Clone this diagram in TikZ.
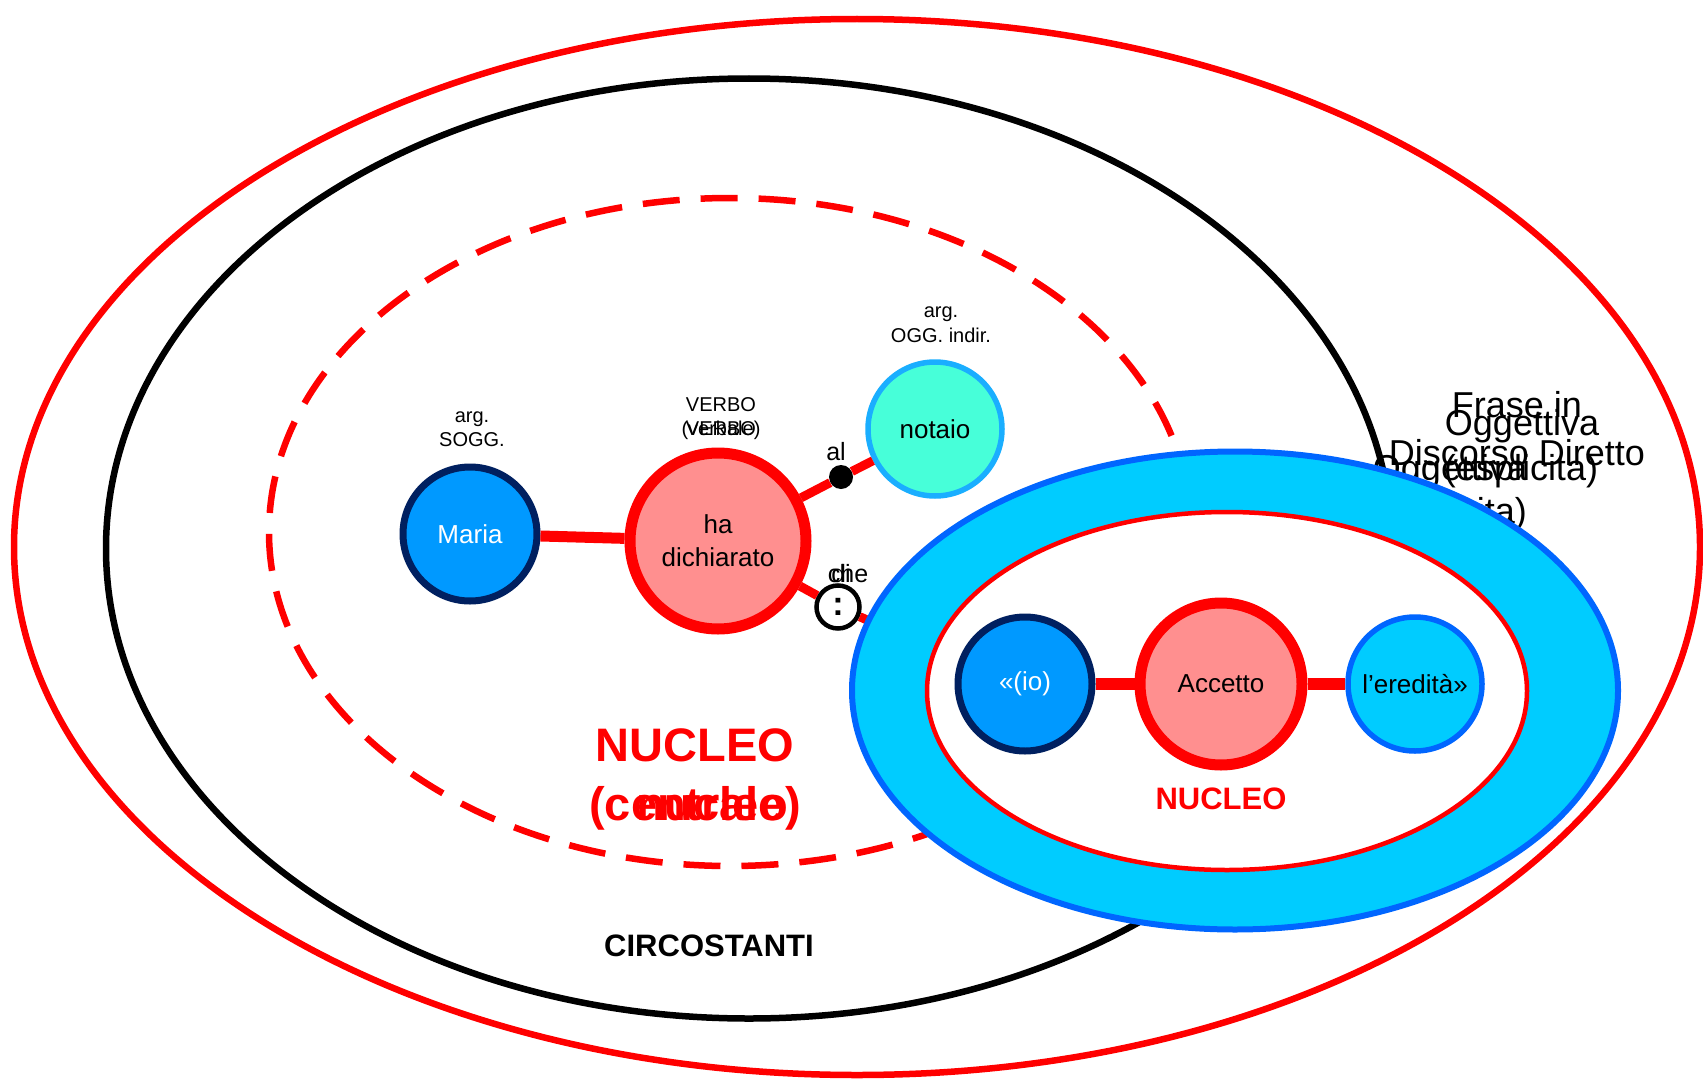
\documentclass[tikz,border=0pt]{standalone}
\usepackage{fontspec}
\setmainfont{Liberation Sans}
\definecolor{subjfill}{HTML}{0099FF}
\definecolor{subjline}{HTML}{002060}
\definecolor{verbfill}{HTML}{FF8F8F}
\definecolor{oifill}{HTML}{47FFD9}
\definecolor{oiline}{HTML}{1AAEFF}
\definecolor{odfill}{HTML}{00CCFF}
\definecolor{odline}{HTML}{0066FF}
\definecolor{ringfill}{HTML}{00CCFF}
\definecolor{ringline}{HTML}{0066FF}
\begin{document}
\begin{tikzpicture}[x=1pt,y=-1pt,
  word/.style={circle, inner sep=0pt, align=center, font=\fontsize{26}{33}\selectfont},
  subj/.style={word, minimum size=134pt, fill=subjfill, draw=subjline, line width=7pt, text=white},
  verb/.style={word, fill=verbfill, draw=red, line width=11pt},
  objind/.style={word, minimum size=134pt, fill=oifill, draw=oiline, line width=5.5pt},
  objdir/.style={word, minimum size=134pt, fill=odfill, draw=odline, line width=5.5pt},
  link/.style={red, line width=11pt},
  thin link/.style={red, line width=9pt},
  role/.style={anchor=base, inner sep=0pt, font=\fontsize{20}{24}\selectfont},
  prep/.style={anchor=base, inner sep=0pt, font=\fontsize{25}{30}\selectfont},
  side/.style={anchor=base, inner sep=0pt, font=\fontsize{36}{44}\selectfont},
  core/.style={anchor=base, inner sep=0pt, text=red, font=\fontsize{47}{56}\selectfont\bfseries},
]
\useasboundingbox (0,0) rectangle (1703,1081);

% outer frame, circumstantials and the dashed core
\draw[red, line width=6.5pt] (857,547) ellipse [x radius=843, y radius=528];
\draw[black, line width=6.5pt] (749,548.5) ellipse [x radius=643, y radius=470];
\draw[red, line width=6.5pt, dash pattern=on 37pt off 21pt] (730,532) ellipse [x radius=461, y radius=334];

% labels of the direct-speech clause
\node[side] (frase1) at (1517,417) {Frase in};
\node[side] (frase2) at (1517,465) {Discorso Diretto};
\node[side] (ogg1) at (1522,435) {Oggettiva};
\node[side] (ogg2) at (1521,480) {(esplicita)};
\node[side] (imp1) at (1450,480) {Oggettiva};
\node[side] (imp2) at (1450,523) {(implicita)};

% main clause
\node[subj] (maria) at (470,534) {Maria};
\node[verb, minimum size=176pt] (ha) at (718,541) {ha\\dichiarato};
\node[objind] (notaio) at (935,429) {notaio};
\node[circle, fill=black, inner sep=0pt, minimum size=24pt] (al) at (841,477) {};
\node[circle, draw=black, fill=white, line width=4.5pt, inner sep=0pt, minimum size=43pt,
      font=\fontsize{34}{34}\selectfont\bfseries] (colon) at (838,607) {:};
\coordinate (ringedge) at (885,628);

\draw[link] (maria) -- (ha);
\draw[thin link] (ha) -- (al) -- (notaio);
\draw[thin link] (ha) -- (colon) -- (ringedge);

\node[role] (sogg1) at (472,422) {arg.};
\node[role] (sogg2) at (472,446) {SOGG.};
\node[role] (verbo1) at (721,411) {VERBO};
\node[role] (verbo2) at (721,435) {(verbale)};
\node[role] (verbo3) at (721,435) {VERBO};
\node[role] (oi1) at (941,317) {arg.};
\node[role] (oi2) at (941,342) {OGG. indir.};
\node[prep] (alword) at (836,460) {al};
\node[prep] (cheword) at (848,582) {che};
\node[prep] (diword) at (841,582) {di};

\node[core] (nucleo1) at (695,761) {NUCLEO};
\node[core] (nucleo2) at (695,820) {(centrale)};
\node[core] (nucleo3) at (712,820) {nucleo};
\node[anchor=base, inner sep=0pt, font=\fontsize{31}{36}\selectfont\bfseries] (circ) at (709,956) {CIRCOSTANTI};

% direct-speech clause
\draw[ringline, fill=ringfill, line width=6pt] (1235,690.5) ellipse [x radius=383, y radius=239];
\draw[red, fill=white, line width=4.5pt] (1227,691) ellipse [x radius=300, y radius=179];

\node[subj] (io) at (1025,684) {«(io)};
\node[verb, minimum size=162pt] (accetto) at (1221,684) {Accetto};
\node[objdir] (eredita) at (1415,684) {l’eredità»};
\draw[link, line width=12pt] (io) -- (accetto);
\draw[link, line width=12pt] (accetto) -- (eredita);

\node[anchor=base, inner sep=0pt, text=red, font=\fontsize{31}{36}\selectfont\bfseries] (nucleoin) at (1221,809) {NUCLEO};
\end{tikzpicture}
\end{document}
